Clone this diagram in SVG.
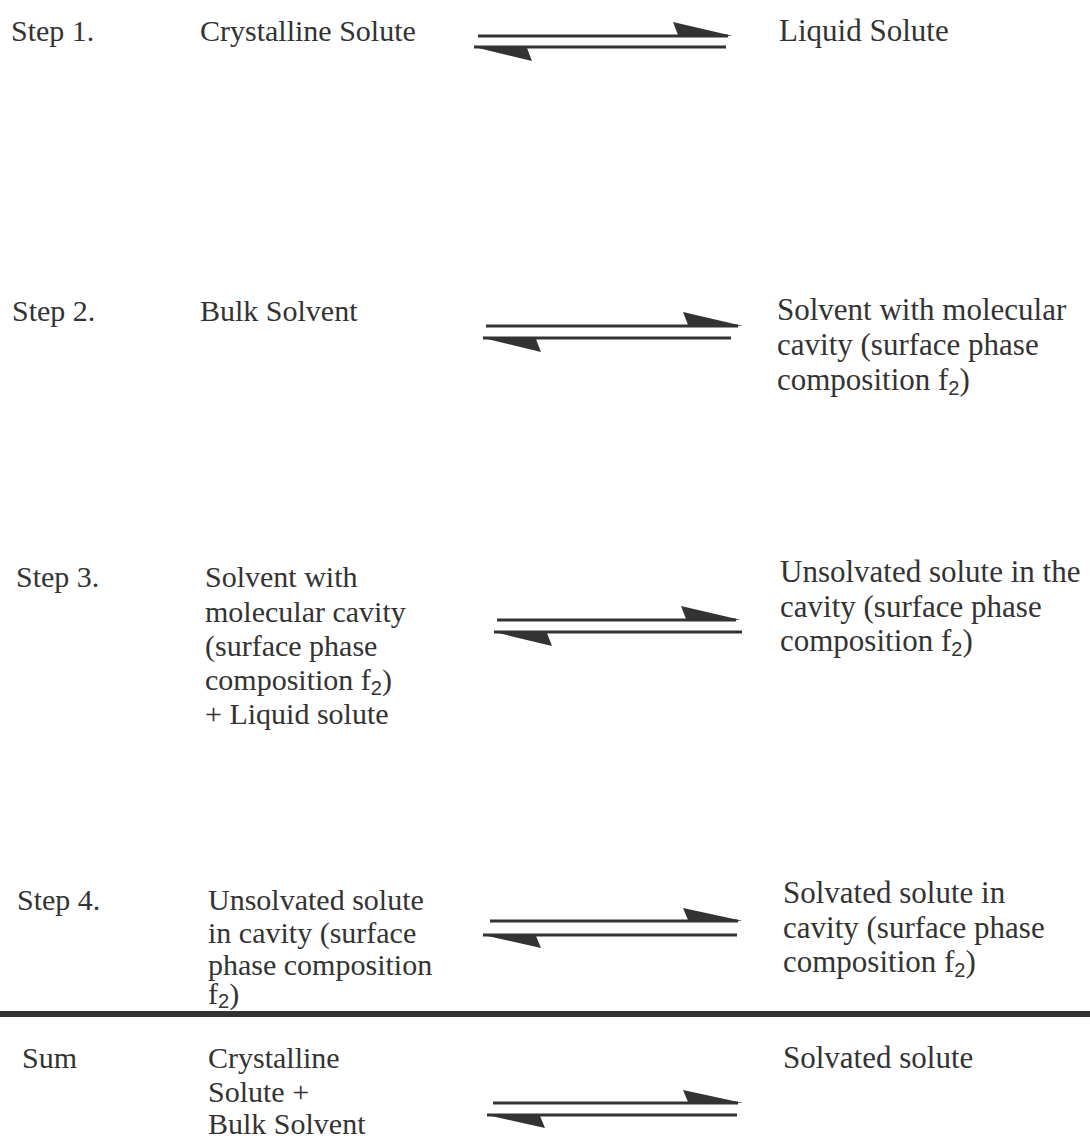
<svg xmlns="http://www.w3.org/2000/svg" width="1090" height="1138" viewBox="0 0 1090 1138">
<style>
text{font-family:"Liberation Serif","Times New Roman",serif;font-size:30px;fill:#333}
.r{font-size:31px}
.sub{font-family:"Liberation Sans",Arial,sans-serif;font-size:20px}
.ln{stroke:#333;stroke-width:3;fill:none}
.hd{fill:#333;stroke:none}
</style>
<rect width="1090" height="1138" fill="#fff"/>
<g id="step1">
<text x="11" y="41">Step 1.</text>
<text x="200" y="41">Crystalline Solute</text>
<text class="r" x="779" y="41">Liquid Solute</text>
</g>
<g id="step2">
<text x="12" y="321">Step 2.</text>
<text x="200" y="321">Bulk Solvent</text>
<text class="r" x="777" y="320">Solvent with molecular</text>
<text class="r" x="777" y="355">cavity (surface phase</text>
<text class="r" x="777" y="390">composition f<tspan class="sub" dy="5">2</tspan><tspan dy="-5">)</tspan></text>
</g>
<g id="step3">
<text x="16" y="587">Step 3.</text>
<text x="205" y="587">Solvent with</text>
<text x="205" y="622">molecular cavity</text>
<text x="205" y="656">(surface phase</text>
<text x="205" y="690">composition f<tspan class="sub" dy="5">2</tspan><tspan dy="-5">)</tspan></text>
<text x="205" y="724">+ Liquid solute</text>
<text class="r" x="780" y="582">Unsolvated solute in the</text>
<text class="r" x="780" y="617">cavity (surface phase</text>
<text class="r" x="780" y="651">composition f<tspan class="sub" dy="5">2</tspan><tspan dy="-5">)</tspan></text>
</g>
<g id="step4">
<text x="17" y="910">Step 4.</text>
<text x="208" y="910">Unsolvated solute</text>
<text x="208" y="943">in cavity (surface</text>
<text x="208" y="975">phase composition</text>
<text x="208" y="1004">f<tspan class="sub" dy="4">2</tspan><tspan dy="-4">)</tspan></text>
<text class="r" x="783" y="903">Solvated solute in</text>
<text class="r" x="783" y="938">cavity (surface phase</text>
<text class="r" x="783" y="972">composition f<tspan class="sub" dy="5">2</tspan><tspan dy="-5">)</tspan></text>
</g>
<g id="sum">
<text x="22" y="1068">Sum</text>
<text x="208" y="1068">Crystalline</text>
<text x="208" y="1102">Solute +</text>
<text x="208" y="1134">Bulk Solvent</text>
<text class="r" x="783" y="1068">Solvated solute</text>
</g>
<g id="divider">
<rect x="0" y="1011" width="1090" height="6" fill="#333"/>
</g>
<g id="connectors">
<path class="ln" d="M478 36H728M474 47H726"/>
<path class="hd" d="M733 36L673 22L678 35ZM474 47L532 61L527 48Z"/>
<path class="ln" d="M486 326H738M483 338H731"/>
<path class="hd" d="M743 326L683 312L688 325ZM483 338L541 352L536 339Z"/>
<path class="ln" d="M497 620H736M494 632H742"/>
<path class="hd" d="M741 620L681 606L686 619ZM494 632L552 646L547 633Z"/>
<path class="ln" d="M490 921H738M483 935H737"/>
<path class="hd" d="M743 921L683 908L688 920ZM483 935L541 948L536 936Z"/>
<path class="ln" d="M493 1103H738M487 1115H737"/>
<path class="hd" d="M743 1103L683 1090L688 1102ZM487 1115L545 1128L540 1116Z"/>
</g>
</svg>
